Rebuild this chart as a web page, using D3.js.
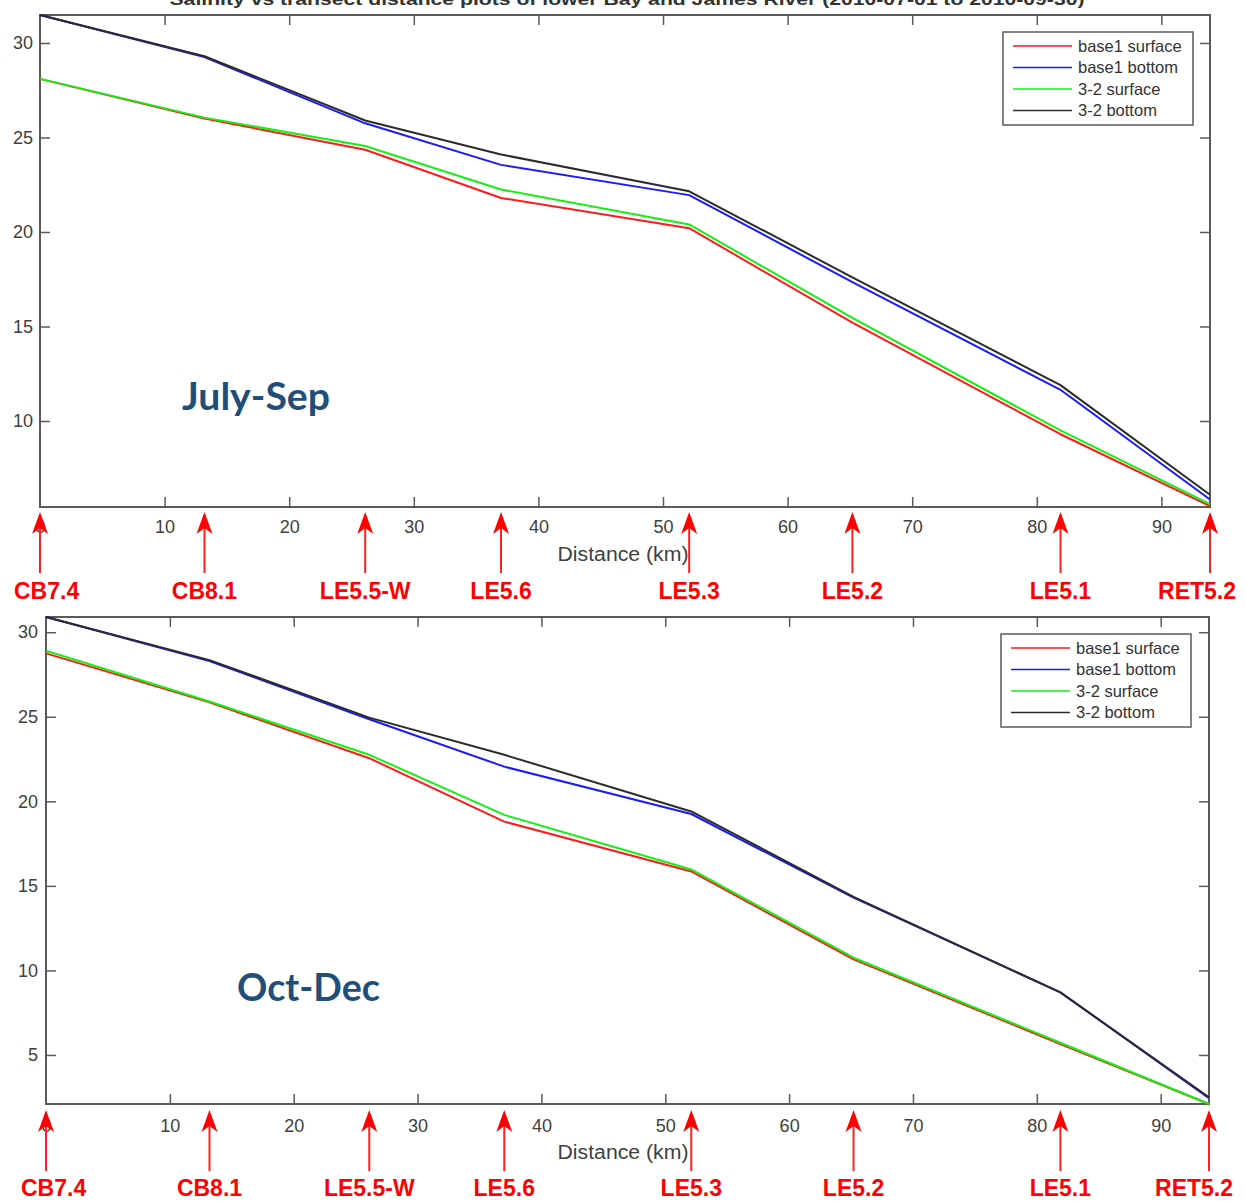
<!DOCTYPE html>
<html><head><meta charset="utf-8">
<script src="https://cdn.jsdelivr.net/npm/d3@7"></script>
<style>body{margin:0;background:#fff}svg{display:block}</style>
</head><body>
<svg id="c" width="1246" height="1202"></svg>
<script>
// ---------------- data ----------------
const stations = ["CB7.4","CB8.1","LE5.5-W","LE5.6","LE5.3","LE5.2","LE5.1","RET5.2"];
const stationKm = [0, 13.2, 26.1, 37.0, 52.1, 65.2, 81.9, 93.9];
const seriesNames = ["base1 surface","base1 bottom","3-2 surface","3-2 bottom"];

const julSepBase1Surface = [28.1, 26.0, 24.35, 21.8, 20.2, 15.2, 9.3, 5.5];
const julSepBase1Bottom  = [31.48, 29.25, 25.75, 23.55, 21.95, 17.35, 11.65, 5.85];
const julSep32Surface    = [28.1, 26.05, 24.55, 22.25, 20.4, 15.45, 9.5, 5.6];
const julSep32Bottom     = [31.48, 29.3, 25.9, 24.1, 22.15, 17.6, 11.9, 6.1];

const octDecBase1Surface = [28.75, 25.85, 22.55, 18.8, 15.85, 10.65, 5.65, 2.1];
const octDecBase1Bottom  = [30.9, 28.3, 24.85, 22.05, 19.25, 14.3, 8.7, 2.45];
const octDec32Surface    = [28.9, 25.9, 22.75, 19.2, 15.97, 10.75, 5.72, 2.1];
const octDec32Bottom     = [30.9, 28.35, 24.95, 22.75, 19.4, 14.35, 8.7, 2.5];

const xTicks = [0,10,20,30,40,50,60,70,80,90];
const julSepYTicks = [10,15,20,25,30];
const octDecYTicks = [5,10,15,20,25,30];
const titleText = "Salinity vs transect distance plots of lower Bay and James River (2010-07-01 to 2010-09-30)";

// ---------------- styles ----------------
const lineColors = ["#ff1a1a","#1a1aff","#14f014","#2b2b2b"];
const axisColor = "#5a5a5a";
const tickTextColor = "#404040";
const font = "'Liberation Sans', Arial, sans-serif";

const svg = d3.select("#c");

// title (clipped by the top edge, as in the reference)
svg.append("text").attr("x", 627).attr("y", 5).attr("text-anchor","middle")
  .attr("font-family", font).attr("font-size", 17).attr("font-weight","bold")
  .attr("fill","#333").attr("textLength", 915).attr("lengthAdjust","spacingAndGlyphs")
  .text(titleText);

function drawPanel(cfg) {
  const x = d3.scaleLinear().domain([0, 93.9]).range([cfg.left, cfg.right]);
  const y = d3.scaleLinear().domain(cfg.yDomain).range([cfg.bottom, cfg.top]);
  const g = svg.append("g");

  const bx = g.append("g").attr("transform", `translate(0,${cfg.bottom})`)
    .call(d3.axisBottom(x).tickValues(xTicks).tickSizeInner(-10).tickSizeOuter(0).tickPadding(cfg.xPad).tickFormat(d3.format("d")));
  const tx = g.append("g").attr("transform", `translate(0,${cfg.top})`)
    .call(d3.axisTop(x).tickValues(xTicks.slice(1)).tickSizeInner(-10).tickSizeOuter(0).tickFormat(""));
  const ly = g.append("g").attr("transform", `translate(${cfg.left},0)`)
    .call(d3.axisLeft(y).tickValues(cfg.yTicks).tickSizeInner(-10).tickSizeOuter(0).tickPadding(cfg.yPad).tickFormat(d3.format("d")));
  const ry = g.append("g").attr("transform", `translate(${cfg.right},0)`)
    .call(d3.axisRight(y).tickValues(cfg.yTicks).tickSizeInner(-10).tickSizeOuter(0).tickFormat(""));
  [bx, tx, ly, ry].forEach(a => {
    a.select(".domain").remove();
    a.selectAll(".tick line").attr("stroke", axisColor).attr("stroke-width", 1.5);
    a.selectAll(".tick text").attr("font-family", font).attr("font-size", 18).attr("fill", tickTextColor);
  });
  bx.selectAll(".tick").filter(d => d === 0).select("line").remove();

  g.append("rect").attr("x", cfg.left).attr("y", cfg.top)
    .attr("width", cfg.right - cfg.left).attr("height", cfg.bottom - cfg.top)
    .attr("fill","none").attr("stroke", axisColor).attr("stroke-width", 2);

  g.append("text").attr("x", 623).attr("y", cfg.bottom + cfg.xLabelY)
    .attr("text-anchor","middle").attr("font-family", font).attr("font-size", 20)
    .attr("fill", tickTextColor).attr("textLength", 131).attr("lengthAdjust","spacingAndGlyphs")
    .text("Distance (km)");

  const line = d3.line().x((d,i) => x(stationKm[i])).y(d => y(d));
  cfg.series.forEach((s, k) => {
    g.append("path").datum(s).attr("d", line).attr("fill","none")
      .attr("stroke", lineColors[k]).attr("stroke-width", 2).attr("stroke-linejoin","round");
  });

  const lg = g.append("g").attr("transform", `translate(${cfg.legend[0]},${cfg.legend[1]})`);
  lg.append("rect").attr("x",0).attr("y",0).attr("width",190).attr("height",93)
    .attr("fill","#fff").attr("stroke", axisColor).attr("stroke-width", 1.5);
  seriesNames.forEach((n, k) => {
    const yy = 14 + k * 21.5;
    lg.append("line").attr("x1",10).attr("x2",69).attr("y1",yy).attr("y2",yy)
      .attr("stroke", lineColors[k]).attr("stroke-width", 1.6);
    lg.append("text").attr("x",75).attr("y",yy).attr("dy","0.35em")
      .attr("font-family", font).attr("font-size", 16.5).attr("fill","#333").text(n);
  });

  g.append("text").attr("x", cfg.note[1]).attr("y", cfg.note[2])
    .attr("font-family","Lato, 'Open Sans', sans-serif").attr("font-weight","bold")
    .attr("font-size", 38).attr("fill","#1f4e79")
    .attr("textLength", cfg.note[3]).attr("lengthAdjust","spacingAndGlyphs").text(cfg.note[0]);

  stations.forEach((st, i) => {
    const ax = x(stationKm[i]);
    const tip = cfg.bottom + cfg.arrowTip;
    const ag = g.append("g");
    ag.append("line").attr("x1", ax).attr("x2", ax).attr("y1", tip + 14).attr("y2", tip + 61)
      .attr("stroke","#ff2020").attr("stroke-width", 2);
    ag.append("path").attr("d", `M${ax},${tip} L${ax+8},${tip+22} L${ax},${tip+16} L${ax-8},${tip+22} Z`)
      .attr("fill","#ff0000");
    const t = ag.append("text").attr("y", cfg.bottom + cfg.labelY).attr("text-anchor","middle")
      .attr("font-family", font).attr("font-weight","bold").attr("font-size", 23)
      .attr("fill","#ff0000").text(st);
    const w = t.node().getComputedTextLength();
    const cx = Math.max(cfg.labelMin + w/2, Math.min(cfg.labelMax - w/2, ax));
    t.attr("x", cx);
  });
}

drawPanel({
  left: 40, right: 1210, top: 15, bottom: 507,
  yDomain: [5.45, 31.48], yTicks: julSepYTicks, yPad: 7, xPad: 13, xLabelY: 54,
  series: [julSepBase1Surface, julSepBase1Bottom, julSep32Surface, julSep32Bottom],
  legend: [1003, 32], note: ["July-Sep", 182, 410, 148],
  arrowTip: 5, labelY: 92, labelMin: 14, labelMax: 1236
});
drawPanel({
  left: 46, right: 1209, top: 617, bottom: 1104,
  yDomain: [2.1, 30.9], yTicks: octDecYTicks, yPad: 8, xPad: 15, xLabelY: 55,
  series: [octDecBase1Surface, octDecBase1Bottom, octDec32Surface, octDec32Bottom],
  legend: [1001, 634], note: ["Oct-Dec", 237, 1001, 143],
  arrowTip: 6, labelY: 92, labelMin: 21, labelMax: 1233
});
</script>
</body></html>
